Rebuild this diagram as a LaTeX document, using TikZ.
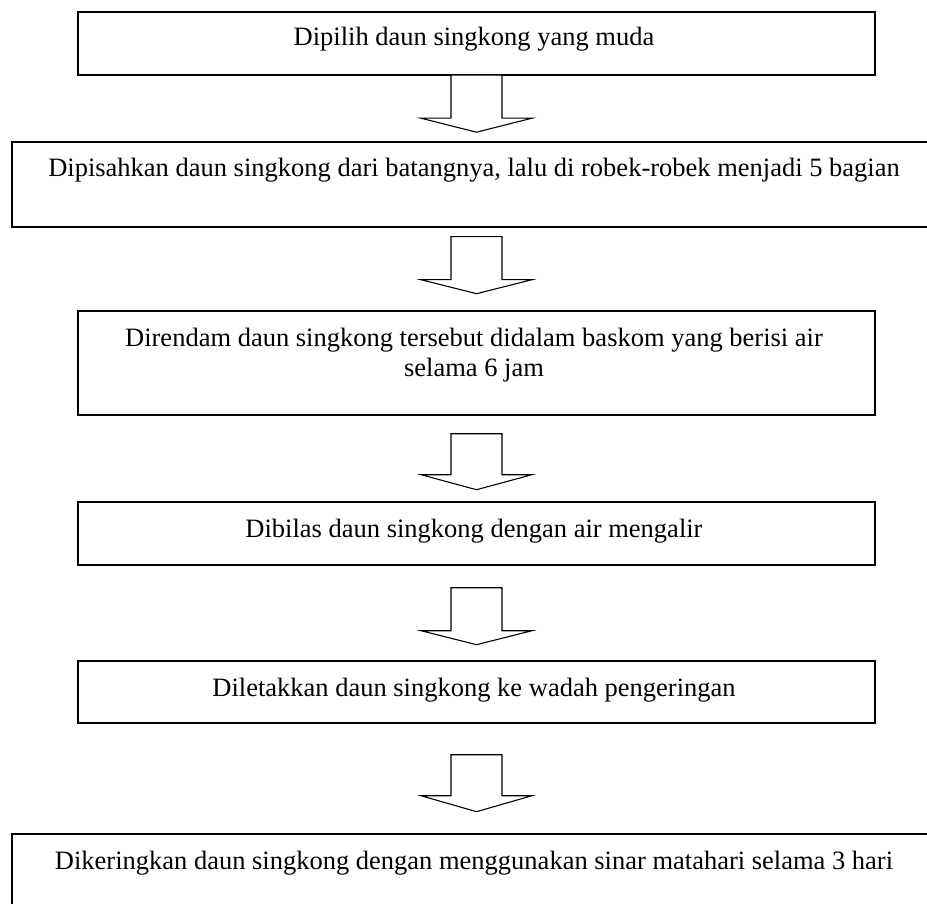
\documentclass[tikz,border=0pt]{standalone}
\usepackage{fontspec}
\setmainfont{Liberation Serif}
\usetikzlibrary{calc}
\tikzset{
  flowbox/.style={draw=black, line width=1.4pt, fill=none, rectangle, inner sep=0pt},
  flowtext/.style={anchor=base, inner sep=0pt, font=\fontsize{26.5}{30.5}\selectfont},
  blockarrow/.style={draw=black, line width=1.1pt, fill=white, line join=miter},
}
\begin{document}
\begin{tikzpicture}[x=1pt,y=-1pt]
\useasboundingbox (0,0) rectangle (927,904);
\clip (0,0) rectangle (927,904);
% boxes
\node[flowbox, minimum width=797pt, minimum height=63pt] (b1) at (476.5,43.5) {};
\node[flowbox, minimum width=929pt, minimum height=85pt] (b2) at (476.5,184.5) {};
\node[flowbox, minimum width=797pt, minimum height=104pt] (b3) at (476.5,363) {};
\node[flowbox, minimum width=797pt, minimum height=63pt] (b4) at (476.5,533.5) {};
\node[flowbox, minimum width=797pt, minimum height=62pt] (b5) at (476.5,692) {};
\node[flowbox, minimum width=929pt, minimum height=85pt] (b6) at (476.5,876.5) {};
% texts
\node[flowtext] (t1) at (474,46) {Dipilih daun singkong yang muda};
\node[flowtext] (t2) at (474,177) {Dipisahkan daun singkong dari batangnya, lalu di robek-robek menjadi 5 bagian};
\node[flowtext] (t3a) at (474,346) {Direndam daun singkong tersebut didalam baskom yang berisi air};
\node[flowtext] (t3b) at (474,376) {selama 6 jam};
\node[flowtext] (t4) at (474,537) {Dibilas daun singkong dengan air mengalir};
\node[flowtext] (t5) at (474,696) {Diletakkan daun singkong ke wadah pengeringan};
\node[flowtext] (t6) at (474,869) {Dikeringkan daun singkong dengan menggunakan sinar matahari selama 3 hari};
% block arrows: start coordinate below each box, shaft 25.5 half width, head 55.5 half width
\newcommand{\flowblockarrow}[3]{% #1 start coord, #2 shaft length, #3 head length
  \draw[blockarrow] ($(#1)+(-25.5,0)$) -- ($(#1)+(25.5,0)$) -- ($(#1)+(25.5,#2)$) -- ($(#1)+(55.5,#2)$)
    -- ($(#1)+(0,#2+#3)$) -- ($(#1)+(-55.5,#2)$) -- ($(#1)+(-25.5,#2)$) -- cycle;
}
\coordinate (a1) at ($(b1.south)+(0,-0.5)$);
\coordinate (a2) at ($(b2.south)+(0,9)$);
\coordinate (a3) at ($(b3.south)+(0,18)$);
\coordinate (a4) at ($(b4.south)+(0,22)$);
\coordinate (a5) at ($(b5.south)+(0,31)$);
\flowblockarrow{a1}{43}{14}
\flowblockarrow{a2}{43}{14}
\flowblockarrow{a3}{41}{15}
\flowblockarrow{a4}{43}{14}
\flowblockarrow{a5}{41}{16}
\end{tikzpicture}
\end{document}
